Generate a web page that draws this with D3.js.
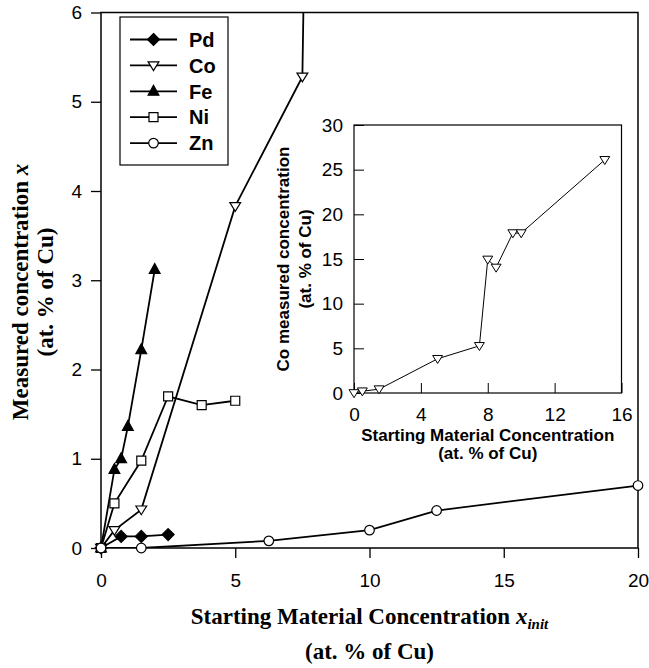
<!DOCTYPE html>
<html>
<head>
<meta charset="utf-8">
<script src="https://cdn.jsdelivr.net/npm/d3@7"></script>
<style>
  body { margin: 0; background: #fff; }
  svg { display: block; }
</style>
</head>
<body>
<div id="chart"></div>
<script>
// values (x = starting conc., y = measured conc.)
const pdX = [0, 0.75, 1.5, 2.5];
const pdY = [0, 0.13, 0.13, 0.15];
const coX = [0, 0.5, 1.5, 5, 7.5, 8, 8.5, 9.5, 10, 15];
const coY = [0, 0.2, 0.43, 3.83, 5.28, 14.95, 14.05, 17.9, 17.9, 26.1];
const feX = [0, 0.5, 0.75, 1, 1.5, 2];
const feY = [0, 0.88, 1.0, 1.36, 2.22, 3.12];
const niX = [0, 0.5, 1.5, 2.5, 3.75, 5];
const niY = [0, 0.5, 0.98, 1.7, 1.6, 1.65];
const znX = [0, 1.5, 6.25, 10, 12.5, 20];
const znY = [0, 0, 0.08, 0.2, 0.42, 0.7];

const seriesNames = ['Pd', 'Co', 'Fe', 'Ni', 'Zn'];
const mainXTicks = [0, 5, 10, 15, 20];
const mainYTicks = [0, 1, 2, 3, 4, 5, 6];
const insetXTicks = [0, 4, 8, 12, 16];
const insetYTicks = [0, 5, 10, 15, 20, 25, 30];

const zip = (xs, ys) => xs.map((x, i) => [x, ys[i]]);
const series = [
  {name: 'Pd', pts: zip(pdX, pdY), mark: 'diamond'},
  {name: 'Co', pts: zip(coX, coY), mark: 'tridown'},
  {name: 'Fe', pts: zip(feX, feY), mark: 'triup'},
  {name: 'Ni', pts: zip(niX, niY), mark: 'square'},
  {name: 'Zn', pts: zip(znX, znY), mark: 'circle'}
];

const W = 649, H = 668;
const sans = '"Liberation Sans", Arial, sans-serif';
const serif = '"Liberation Serif", "Times New Roman", serif';
const fmt = d3.format('d');

const svg = d3.select('#chart').append('svg')
  .attr('width', W).attr('height', H);

// marker shapes
function markPath(type, s) {
  if (type === 'diamond') return `M0,${-s}L${s},0L0,${s}L${-s},0Z`;
  if (type === 'triup') return `M0,${-s}L${s*0.9},${s*0.65}L${-s*0.9},${s*0.65}Z`;
  if (type === 'tridown') return `M${-s*0.9},${-s*0.6}L${s*0.9},${-s*0.6}L0,${s*0.85}Z`;
  if (type === 'square') return `M${-s*0.75},${-s*0.75}H${s*0.75}V${s*0.75}H${-s*0.75}Z`;
  return d3.arc()({innerRadius: 0, outerRadius: s*0.8, startAngle: 0, endAngle: 2*Math.PI});
}
const filled = t => t === 'diamond' || t === 'triup';

// ---------- main plot ----------
const m = {left: 101, right: 638, top: 12.5, bottom: 548};
const x = d3.scaleLinear().domain([0, 20]).range([m.left, m.right]);
const y = d3.scaleLinear().domain([0, 6]).range([m.bottom, m.top]);

svg.append('clipPath').attr('id', 'mainclip')
  .append('rect').attr('x', m.left).attr('y', m.top)
  .attr('width', m.right - m.left).attr('height', m.bottom - m.top);

svg.append('g')
  .attr('transform', `translate(0,${m.bottom})`)
  .call(d3.axisBottom(x).tickValues(mainXTicks).tickFormat(fmt).tickSize(10).tickPadding(16))
  .call(g => g.select('.domain').remove())
  .call(g => g.selectAll('line').attr('stroke-width', 1.3))
  .call(g => g.selectAll('text').attr('font-family', sans).attr('font-size', 19));

svg.append('g')
  .attr('transform', `translate(${m.left},0)`)
  .call(d3.axisLeft(y).tickValues(mainYTicks).tickFormat(fmt).tickSize(10).tickPadding(9))
  .call(g => g.select('.domain').remove())
  .call(g => g.selectAll('line').attr('stroke-width', 1.3))
  .call(g => g.selectAll('text').attr('font-family', sans).attr('font-size', 19));

svg.append('rect')
  .attr('x', m.left).attr('y', m.top)
  .attr('width', m.right - m.left).attr('height', m.bottom - m.top)
  .attr('fill', 'none').attr('stroke', '#000').attr('stroke-width', 1.5);

const line = d3.line().x(d => x(d[0])).y(d => y(d[1]));

series.forEach(s => {
  svg.append('path')
    .attr('d', line(s.pts))
    .attr('clip-path', 'url(#mainclip)')
    .attr('fill', 'none').attr('stroke', '#000').attr('stroke-width', 1.8);
});
series.forEach(s => {
  svg.append('g').selectAll('path')
    .data(s.pts.filter(d => d[1] <= 6 && d[0] <= 20))
    .join('path')
    .attr('transform', d => `translate(${x(d[0])},${y(d[1])})`)
    .attr('d', markPath(s.mark, 6))
    .attr('fill', filled(s.mark) ? '#000' : '#fff')
    .attr('stroke', '#000').attr('stroke-width', 1.2);
});

// legend
const lg = svg.append('g');
lg.append('rect').attr('x', 120).attr('y', 17).attr('width', 108).attr('height', 148)
  .attr('fill', '#fff').attr('stroke', '#000').attr('stroke-width', 1.2);
series.forEach((s, i) => {
  const ly = 39.5 + i * 25.9;
  lg.append('line').attr('x1', 130).attr('x2', 177).attr('y1', ly).attr('y2', ly)
    .attr('stroke', '#000').attr('stroke-width', 1.8);
  lg.append('path').attr('transform', `translate(153.5,${ly})`)
    .attr('d', markPath(s.mark, 6))
    .attr('fill', filled(s.mark) ? '#000' : '#fff')
    .attr('stroke', '#000').attr('stroke-width', 1.2);
  lg.append('text').attr('x', 189).attr('y', ly).attr('dy', '0.36em')
    .attr('font-family', sans).attr('font-weight', 'bold').attr('font-size', 20)
    .text(seriesNames[i]);
});

// main axis titles
const xt = svg.append('text').attr('x', (m.left + m.right) / 2).attr('y', 624)
  .attr('text-anchor', 'middle').attr('font-family', serif).attr('font-weight', 'bold').attr('font-size', 23);
xt.append('tspan').text('Starting Material Concentration ');
xt.append('tspan').attr('font-style', 'italic').text('x');
xt.append('tspan').attr('font-style', 'italic').attr('font-size', 15).attr('dy', 5).text('init');
svg.append('text').attr('x', (m.left + m.right) / 2).attr('y', 659)
  .attr('text-anchor', 'middle').attr('font-family', serif).attr('font-weight', 'bold').attr('font-size', 23)
  .text('(at. % of Cu)');

const ymid = 292;
const yt = svg.append('text').attr('transform', `translate(28,${ymid}) rotate(-90)`)
  .attr('text-anchor', 'middle').attr('font-family', serif).attr('font-weight', 'bold').attr('font-size', 23);
yt.append('tspan').text('Measured concentration ');
yt.append('tspan').attr('font-style', 'italic').text('x');
svg.append('text').attr('transform', `translate(53,${ymid}) rotate(-90)`)
  .attr('text-anchor', 'middle').attr('font-family', serif).attr('font-weight', 'bold').attr('font-size', 23)
  .text('(at. % of Cu)');

// ---------- inset: Co only ----------
const n = {left: 354, right: 621.5, top: 125, bottom: 393};
const ix = d3.scaleLinear().domain([0, 16]).range([n.left, n.right]);
const iy = d3.scaleLinear().domain([0, 30]).range([n.bottom, n.top]);

svg.append('g')
  .attr('transform', `translate(0,${n.bottom})`)
  .call(d3.axisBottom(ix).tickValues(insetXTicks).tickFormat(fmt).tickSize(-10).tickPadding(15))
  .call(g => g.select('.domain').remove())
  .call(g => g.selectAll('text').attr('font-family', sans).attr('font-size', 19));

svg.append('g')
  .attr('transform', `translate(${n.left},0)`)
  .call(d3.axisLeft(iy).tickValues(insetYTicks).tickFormat(fmt).tickSize(-10).tickPadding(11))
  .call(g => g.select('.domain').remove())
  .call(g => g.selectAll('text').attr('font-family', sans).attr('font-size', 19));

svg.append('rect')
  .attr('x', n.left).attr('y', n.top)
  .attr('width', n.right - n.left).attr('height', n.bottom - n.top)
  .attr('fill', 'none').attr('stroke', '#000').attr('stroke-width', 1.2);

const iline = d3.line().x(d => ix(d[0])).y(d => iy(d[1]));
const co = series[1];
svg.append('path').attr('d', iline(co.pts))
  .attr('fill', 'none').attr('stroke', '#000').attr('stroke-width', 1);
svg.append('g').selectAll('path')
  .data(co.pts)
  .join('path')
  .attr('transform', d => `translate(${ix(d[0])},${iy(d[1])})`)
  .attr('d', markPath('tridown', 5.5))
  .attr('fill', '#fff').attr('stroke', '#000').attr('stroke-width', 1);

const icx = (n.left + n.right) / 2, icy = (n.top + n.bottom) / 2;
svg.append('text').attr('x', icx).attr('y', 441)
  .attr('text-anchor', 'middle').attr('font-family', sans).attr('font-weight', 'bold').attr('font-size', 17)
  .text('Starting Material Concentration');
svg.append('text').attr('x', icx).attr('y', 459)
  .attr('text-anchor', 'middle').attr('font-family', sans).attr('font-weight', 'bold').attr('font-size', 17)
  .text('(at. % of Cu)');
svg.append('text').attr('transform', `translate(289,${icy}) rotate(-90)`)
  .attr('text-anchor', 'middle').attr('font-family', sans).attr('font-weight', 'bold').attr('font-size', 17)
  .text('Co measured concentration');
svg.append('text').attr('transform', `translate(311,${icy}) rotate(-90)`)
  .attr('text-anchor', 'middle').attr('font-family', sans).attr('font-weight', 'bold').attr('font-size', 17)
  .text('(at. % of Cu)');
</script>
</body>
</html>
